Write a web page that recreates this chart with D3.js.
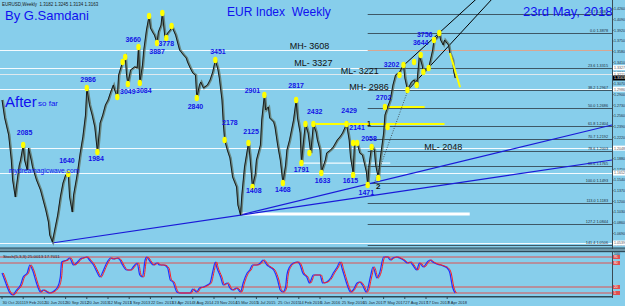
<!DOCTYPE html>
<html><head><meta charset="utf-8">
<script src="https://cdn.jsdelivr.net/npm/d3@7/dist/d3.min.js"></script>
<style>
body{margin:0;background:#87ceeb;}
svg{display:block;font-family:"Liberation Sans",Arial,sans-serif;}
</style>
</head><body><div id="chart"></div>
<script>
// weekly bars, week 0 = 30 Oct 2011; prices in points (1.xxxx -> xxxx)
const priceWeeks = [0,2,5,7,8,10,11,13,14,16,17,19,20,22,23,26,29,31,33,35,36,38,39,42,44,46,48,50,51,53,54,56,57,59,61,63,64,66,68,70,72,74,76,78,80,82,84,85,87,88,91,93,94,95,97,100,102,103,104,106,107,109,111,112,114,115,117,118,120,121,123,125,127,128,131,133,134,137,139,140,142,144,146,147,149,150,152,155,157,159,161,163,164,166,167,168,170,172,174,177,178,180,181,183,186,187,189,191,192,195,196,198,199,201,202,205,206,208,210,212,214,215,217,220,222,223,225,226,228,229,231,233,235,237,238,240,241,244,245,248,250,253,255,257,260,262,263,265,266,268,270,272,275,276,277,279,281,282,284,285,288,289,291,293,295,297,300,303,304,306,309,311,313,315,317,318,321,322,325,326,328,330,331,333,334,337,338,340,341,342];
const priceValues = [2813,2527,2256,1859,1541,1271,1461,1779,1859,2097,1859,1700,2050,1859,1748,1541,1382,1223,1064,873,666,555,666,984,1271,1493,1620,1636,1271,1032,1302,1541,1668,1970,2225,2574,3004,2733,2574,2384,1986,2447,2574,2733,2813,2940,3051,2972,2861,3210,3417,3497,3210,3067,3290,3338,3322,3656,3083,3369,3608,3926,4149,3958,3878,3846,3719,3894,4005,4196,3799,3878,3926,3990,3846,3687,3608,3528,3481,3417,3322,3242,3210,2845,3051,3099,3004,3051,3131,3258,3449,3290,3163,2813,2447,2177,2018,1891,1589,1430,1143,984,1302,1748,2129,1938,1430,1620,1859,2097,2495,2892,2654,2702,2527,2463,2384,2097,1859,1493,1779,2018,2177,2495,2813,2527,2288,1811,2256,2431,2288,1970,2431,2304,2177,2018,1668,1859,1970,2018,2066,2177,2225,2288,2431,2177,1907,1652,2129,2129,1970,1938,1668,1461,1779,2082,2018,1779,1573,1811,2288,2574,2702,2813,3051,3210,3258,3369,3163,2972,3099,3131,3051,3528,3369,3258,3322,3322,3608,3767,3799,3878,3767,3687,3767,3687,3560,3449,3258,3163];

// yellow pivot markers
const markerWeeks  = [16,50,64,72,87,91,93,95,103,104,111,117,121,124,128,147,161,168,186,189,198,212,222,226,229,232,235,241,260,265,268,265,276,279,284,289,291,300,303,306,311,313,316,318,322,326,330];
const markerPrices = [2097,1636,3004,1986,2861,3417,3497,3067,3656,3083,4149,3719,4196,3799,3990,2845,3449,2177,2129,1430,2892,1493,2813,1811,2431,1970,2431,1652,2431,2129,2129,1620,1461,2066,1573,2702,2384,3210,3369,2972,3417,3051,3528,3258,3322,3767,3878];

// blue pivot labels
const pivotLabels = ["2085","1640","1984","2986","3660","3887","3778","3049","3084","2840","3451","2901","2817","2178","2125","2432","2429","2141","2058","1408","1468","1791","1633","1615","1471","2702","3202","3756","3644"];
const pivotWeeks  = [17,49,71,65,99,117,124,95,107,146,163,189,222,172,188,236,262,268,277,190,212,226,242,263,275,288,294,319,316];
const pivotPrices = [2290,1843,1875,3132,3767,3576,3703,2941,2957,2705,3576,2956,3036,2447,2304,2622,2638,2367,2193,1366,1382,1700,1525,1525,1334,2845,3369,3846,3719];

// level labels
const levelLabels = ["MH- 3608","ML- 3327","ML- 3221","MH- 2986","ML- 2048"];
const levelWeeks  = [232,235,270,277,333];
const levelPrices = [3656,3385,3258,3004,2050];

// full width horizontal levels
const whiteLevels = [3608,3327,3221,2986,2048,1652,539];
const boxedLevels = [3327,3221,2986,2048,1652,539];

// fibonacci retracement (0 = 3878, 100 = 1493), drawn from week 276
const fibRatios = [-12.7,0,23.6,38.2,50,61.8,70.7,78.6,88.6,100,113,127.2,141.4];
const fibHigh = 3878, fibLow = 1493, fibStart = 276;

// right axis ticks
const priceTicks = [4260,4090,3920,3750,3580,3410,3240,3070,2900,2730,2560,2390,2220,2050,1880,1710,1540,1370,1200,1030,860,690,520];

// bottom date labels (every 16 weeks)
const dateWeeks  = [0,16,32,48,64,80,96,112,128,144,160,176,192,208,224,240,256,272,288,304,320,336];
const dateLabels = ["30 Oct 2011","19 Feb 2012","10 Jun 2012","30 Sep 2012","20 Jan 2013","12 May 2013","1 Sep 2013","22 Dec 2013","13 Apr 2014","3 Aug 2014","23 Nov 2014","15 Mar 2015","5 Jul 2015","25 Oct 2015","14 Feb 2016","5 Jun 2016","25 Sep 2016","15 Jan 2017","7 May 2017","27 Aug 2017","17 Dec 2017","8 Apr 2018"];

// stochastic %K
const stochWeeks = [0,2,6,8,11,14,16,19,21,23,26,29,31,34,36,38,42,44,45,49,51,54,57,59,61,64,66,69,72,74,76,79,82,84,87,89,91,94,97,99,102,104,106,108,109,112,114,117,119,122,125,127,129,132,134,137,140,142,144,147,149,152,155,157,159,161,162,165,167,170,172,174,177,180,182,185,187,189,192,195,197,200,202,205,208,210,212,214,215,217,220,223,225,227,230,232,235,238,240,242,245,248,250,253,255,257,260,263,265,268,270,272,275,278,280,283,285,288,291,293,295,298,300,303,306,308,310,313,315,318,321,323,325,328,331,333,336,338,340,342];
const stochK = [55,37.5,5,0,12.5,25,45,55,75,62.5,30,7.5,12.5,7.5,5,7.5,20,45,82.5,87.5,92.5,75,82.5,90,92.5,95,87.5,75,55,45,57.5,80,92.5,90,92.5,87.5,75,62.5,62.5,70,80,50,45,87.5,95,82.5,75,80,75,75,67.5,37.5,32.5,7.5,5,5,5,5,15,7.5,17.5,20,25,30,57.5,82.5,70,45,25,30,17.5,12.5,17.5,7.5,30,55,62.5,75,75,80,87.5,75,70,62.5,37.5,12.5,7.5,20,50,70,80,82.5,75,55,45,30,50,50,50,30,32.5,42.5,55,70,82.5,62.5,30,7.5,12.5,30,32.5,25,7.5,45,70,42.5,55,95,95,87.5,92.5,95,92.5,87.5,80,82.5,75,62.5,80,70,82.5,87.5,82.5,77.5,75,72.5,67.5,55,20,5];
const stochLevels = [95,80,20,5];

const W = 625, H = 306;
const fmt = v => (1 + v / 10000).toFixed(4);

const x = d3.scaleLinear().domain([0, 460]).range([2, 611.5]);
const y = d3.scaleLinear().domain([460, 4403]).range([248, 0]);
const ys = d3.scaleLinear().domain([0, 100]).range([295, 255]);

const svg = d3.select("#chart").append("svg").attr("width", W).attr("height", H);
svg.append("rect").attr("width", W).attr("height", H).attr("fill", "#87ceeb");

const defs = svg.append("defs");
defs.append("clipPath").attr("id", "main").append("rect").attr("x", 0).attr("y", 0).attr("width", 612).attr("height", 247);

const main = svg.append("g").attr("clip-path", "url(#main)");

// full width white levels
main.selectAll(".lvl").data(whiteLevels).join("line")
  .attr("x1", 0).attr("x2", 612)
  .attr("y1", d => Math.round(y(d)) + 0.5).attr("y2", d => Math.round(y(d)) + 0.5)
  .attr("stroke", (d, i) => i === 2 ? "#dfe9ee" : "#f4fbff").attr("stroke-width", 1.2);

// fib lines
const fibPrice = r => fibHigh - r / 100 * (fibHigh - fibLow);
main.selectAll(".fib").data(fibRatios).join("line")
  .attr("x1", x(fibStart)).attr("x2", 612)
  .attr("y1", d => Math.round(y(fibPrice(d))) + 0.5).attr("y2", d => Math.round(y(fibPrice(d))) + 0.5)
  .attr("stroke", "#3e5866").attr("stroke-width", 1);
main.selectAll(".fibt").data(fibRatios).join("text")
  .attr("x", 608).attr("y", d => y(fibPrice(d)) - 1)
  .attr("text-anchor", "end").attr("font-size", 3.8).attr("fill", "#1c2c38")
  .text(d => `${d.toFixed(1)} ${fmt(fibPrice(d))}`);
// salmon level on fib side
main.append("line").attr("x1", x(fibStart)).attr("x2", 612)
  .attr("y1", Math.round(y(3608)) + 0.5).attr("y2", Math.round(y(3608)) + 0.5)
  .attr("stroke", "#d8a690").attr("stroke-width", 1.2);

// partial horizontal segments
const seg = (w1, w2, p, col, sw) => main.append("line")
  .attr("x1", x(w1)).attr("x2", x(w2)).attr("y1", y(p)).attr("y2", y(p))
  .attr("stroke", col).attr("stroke-width", sw);
seg(180, 353, 1000, "#ffffff", 3);
seg(226, 293, 1811, "#f4fbff", 1.2);
seg(235, 334, 2431, "#ffff00", 2);
seg(289, 319, 2702, "#ffff00", 2);

// trend lines
const tl = (w1, p1, w2, p2, col, sw, dash) => main.append("line")
  .attr("x1", x(w1)).attr("y1", y(p1)).attr("x2", x(w2)).attr("y2", y(p2))
  .attr("stroke", col).attr("stroke-width", sw).attr("stroke-dasharray", dash || null);
tl(37.7, 539, 460.4, 1859, "#1a1ad8", 1.2);
tl(179.6, 984, 460.4, 2416, "#1a1ad8", 1.2);
tl(303.4, 3369, 370, 4650, "#000000", 1);
tl(306.4, 2972, 380, 4650, "#000000", 1);
tl(281, 1493, 307, 3004, "#333333", 0.8, "1,1.5");

// price path: grey candle bodies under a thin black wick line
const line = d3.line().x((d, i) => x(priceWeeks[i])).y(d => y(d));
main.append("path").datum(priceValues).attr("d", line)
  .attr("fill", "none").attr("stroke", "#5f6e5c").attr("stroke-opacity", 0.75)
  .attr("stroke-width", 2.2).attr("stroke-linejoin", "miter")
  .attr("transform", "translate(0.8,0)");
main.append("path").datum(priceValues).attr("d", line)
  .attr("fill", "none").attr("stroke", "#0d0d0d").attr("stroke-width", 0.9);

// yellow projection
tl(338, 3560, 345.7, 3015, "#ffff00", 2);

// markers
main.selectAll(".mk").data(markerWeeks).join("ellipse")
  .attr("cx", d => x(d)).attr("cy", (d, i) => y(markerPrices[i]))
  .attr("rx", 2.2).attr("ry", 3.3).attr("fill", "#ffff00");

// pivot labels
main.selectAll(".pl").data(pivotLabels).join("text")
  .attr("x", (d, i) => x(pivotWeeks[i])).attr("y", (d, i) => y(pivotPrices[i]))
  .attr("text-anchor", "middle").attr("dominant-baseline", "middle")
  .attr("font-size", 7).attr("font-weight", "bold").attr("fill", "#1414e6")
  .text(d => d);

main.selectAll(".ll").data(levelLabels).join("text")
  .attr("x", (d, i) => x(levelWeeks[i])).attr("y", (d, i) => y(levelPrices[i]))
  .attr("text-anchor", "middle").attr("dominant-baseline", "middle")
  .attr("font-size", 9).attr("fill", "#111111")
  .text(d => d);

main.append("text").attr("x", x(277)).attr("y", y(2431)).attr("dominant-baseline", "middle")
  .attr("font-size", 7).attr("font-weight", "bold").attr("fill", "#111").attr("text-anchor", "middle").text("1");
main.append("text").attr("x", x(284)).attr("y", y(1430)).attr("dominant-baseline", "middle")
  .attr("font-size", 8).attr("font-weight", "bold").attr("fill", "#111").attr("text-anchor", "middle").text("2");

// titles
const txt = (tx, ty, s, size, col) => svg.append("text").attr("x", tx).attr("y", ty).attr("font-size", size)
  .attr("fill", col).style("white-space", "pre").text(s);
txt(2, 6, "EURUSD,Weekly  1.3182 1.3245 1.3134 1.3163", 4.5, "#1a1a1a");
txt(5, 20, "By G.Samdani", 13, "#1010f0");
txt(227, 16, "EUR Index  Weekly", 12, "#1010f0");
txt(523, 16, "23rd May, 2018", 13, "#1010f0");
txt(5, 107, "After", 15, "#1010f0");
txt(38, 106, "so far", 8, "#1010f0");
txt(9, 173, "mydreamagicwave.com", 6.7, "#1010f0");

// right price axis
svg.append("line").attr("x1", 612.5).attr("x2", 612.5).attr("y1", 0).attr("y2", 298).attr("stroke", "#3a4a55");
svg.selectAll(".pt").data(priceTicks).join("text")
  .attr("x", 614).attr("y", d => y(d) + 1.3).attr("font-size", 3.6).attr("fill", "#1c2c38")
  .text(d => fmt(d));
svg.selectAll(".ptk").data(priceTicks).join("line")
  .attr("x1", 612).attr("x2", 613.5).attr("y1", d => y(d)).attr("y2", d => y(d)).attr("stroke", "#3a4a55");
const boxes = svg.selectAll(".bx").data(boxedLevels).join("g")
  .attr("transform", d => `translate(613,${y(d) - 2.5})`);
boxes.append("rect").attr("width", 12).attr("height", 5).attr("fill", "#ffffff");
boxes.append("text").attr("x", 1).attr("y", 3.9).attr("font-size", 3.6).attr("fill", "#555").text(d => fmt(d));
const last = priceValues[priceValues.length - 1];
const cb = svg.append("g").attr("transform", `translate(613,${y(last) - 2.5})`);
cb.append("rect").attr("width", 12).attr("height", 5).attr("fill", "#000");
cb.append("text").attr("x", 1).attr("y", 3.9).attr("font-size", 3.6).attr("fill", "#fff").text(fmt(last));

// separator between panels
svg.append("rect").attr("x", 0).attr("y", 247.5).attr("width", W).attr("height", 1.2).attr("fill", "#2f4a58");
svg.append("rect").attr("x", 0).attr("y", 249).attr("width", W).attr("height", 2).attr("fill", "#6e97a8");
svg.append("rect").attr("x", 0).attr("y", 251).attr("width", W).attr("height", 1.2).attr("fill", "#2f4a58");

// stochastic panel
svg.selectAll(".sl").data(stochLevels).join("line")
  .attr("x1", 0).attr("x2", 612).attr("y1", d => ys(d)).attr("y2", d => ys(d))
  .attr("stroke", "#e05050").attr("stroke-width", 1);
const sline = d3.line().x((d, i) => x(stochWeeks[i])).y(d => ys(d)).curve(d3.curveMonotoneX);
svg.append("path").datum(stochK).attr("d", sline).attr("fill", "none")
  .attr("stroke", "#2030ff").attr("stroke-width", 1.2);
svg.append("path").datum(stochK).attr("d", sline).attr("transform", `translate(${x(1) - x(0)},0)`)
  .attr("fill", "none").attr("stroke", "#ff2020").attr("stroke-width", 1);
txt(3, 258, "Stoch(5,3,3) 25.0013 17.7011", 4.3, "#1a1a1a");
svg.append("text").attr("x", 614).attr("y", 254.8).attr("font-size", 3.6).attr("fill", "#1c2c38").text("100");
const sb = svg.selectAll(".sb").data(stochLevels).join("g")
  .attr("transform", d => `translate(613,${ys(d) - 2})`);
sb.append("rect").attr("width", 7).attr("height", 4).attr("fill", "#e05050");
sb.append("text").attr("x", 1).attr("y", 3.3).attr("font-size", 3.3).attr("fill", "#fff").text(d => d);

// bottom date axis
svg.append("rect").attr("x", 0).attr("y", 296).attr("width", 612).attr("height", 1.5).attr("fill", "#2f4a58");
svg.selectAll(".dt").data(dateWeeks).join("line")
  .attr("x1", d => x(d)).attr("x2", d => x(d)).attr("y1", 297).attr("y2", 299).attr("stroke", "#2f4a58");
svg.selectAll(".dl").data(dateLabels).join("text")
  .attr("x", (d, i) => x(dateWeeks[i]) + 0.5).attr("y", 303.5).attr("font-size", 4).attr("fill", "#1c2c38")
  .text(d => d);
</script>
</body></html>
